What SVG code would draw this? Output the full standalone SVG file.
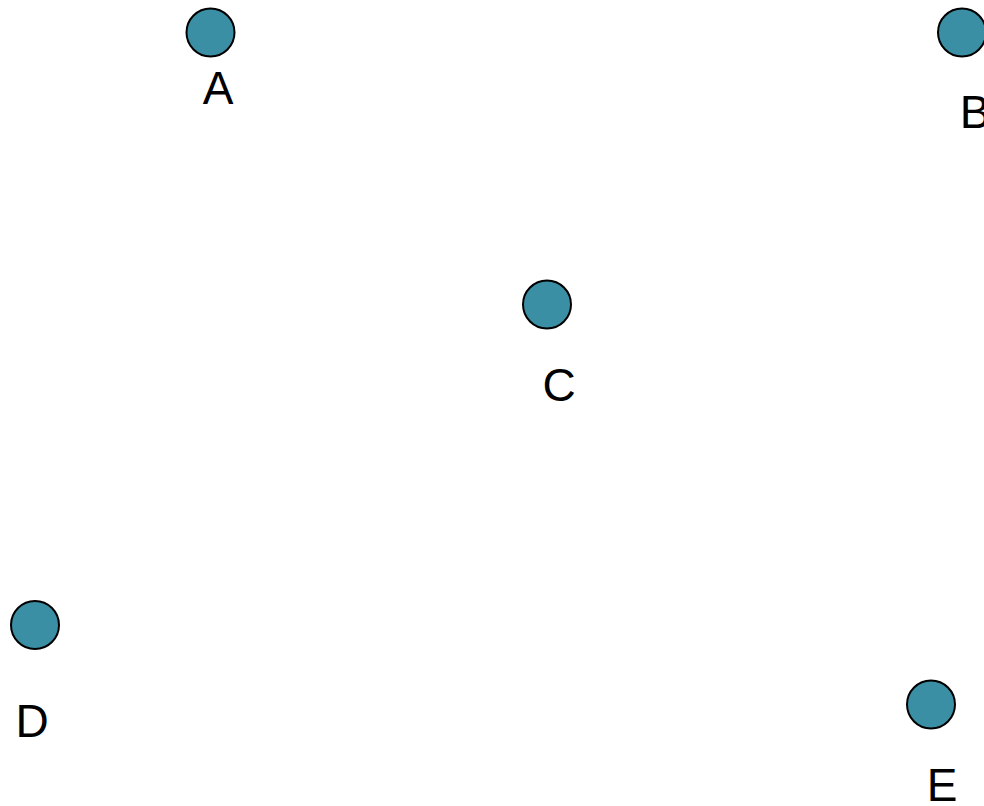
<svg xmlns="http://www.w3.org/2000/svg" width="984" height="806" viewBox="0 0 984 806">
<style>
.node circle{fill:#3a8fa4;stroke:#000;stroke-width:2}
.node text{font-family:"Liberation Sans",Arial,sans-serif;font-size:46px;fill:#000;text-anchor:middle}
</style>
<rect width="984" height="806" fill="#fff"/>
<g id="connectors"></g>
<g id="A" class="node"><circle cx="210.5" cy="32.5" r="24"/><text x="218" y="104">A</text></g>
<g id="B" class="node"><circle cx="962" cy="32.5" r="24"/><text x="975" y="128">B</text></g>
<g id="C" class="node"><circle cx="547" cy="304.5" r="24"/><text x="559" y="401">C</text></g>
<g id="D" class="node"><circle cx="35" cy="625" r="24"/><text x="32" y="737">D</text></g>
<g id="E" class="node"><circle cx="931" cy="704.5" r="24"/><text x="942" y="801">E</text></g>
</svg>
